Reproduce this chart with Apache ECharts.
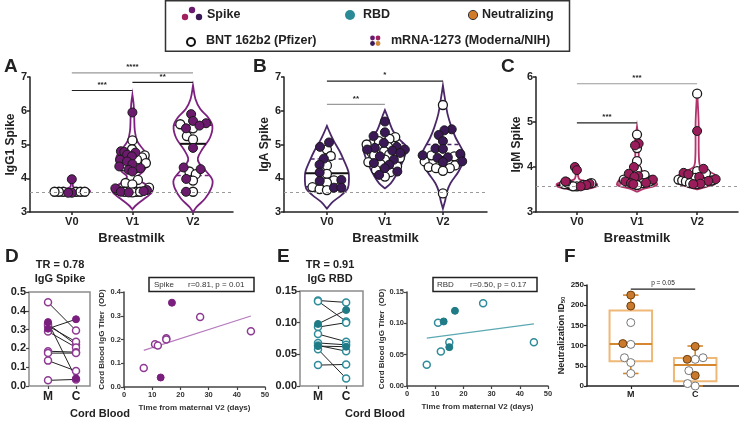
<!DOCTYPE html>
<html>
<head>
<meta charset="utf-8">
<script src="https://cdn.jsdelivr.net/npm/echarts@6.0.0/dist/echarts.min.js"></script>
<style>html,body{margin:0;padding:0;background:#fff;}#chart{width:739px;height:422px;}</style>
</head>
<body>
<div id="chart"></div>
<script>
// ================= DATA =================
const visits = ['V0', 'V1', 'V2'];
const pairCats = ['M', 'C'];

// A: IgG1 Spike (breastmilk)
const igg1Pfizer = [
  [3.6, 3.6, 3.6, 3.6, 3.6, 3.6],
  [5.12, 4.86, 4.68, 4.62, 4.55, 4.45, 4.35, 4.3, 3.95, 3.86, 3.82, 3.72, 3.65, 3.6, 3.6, 3.58, 3.6],
  [5.6, 5.48, 5.25, 5.15, 4.2, 4.12, 3.93, 3.6]
];
const igg1Moderna = [
  [3.97, 3.57, 3.57],
  [5.95, 4.8, 4.78, 4.76, 4.7, 4.65, 4.55, 4.5, 4.42, 4.35, 4.3, 4.25, 4.2, 3.7, 3.65, 3.6, 3.62, 3.58],
  [5.9, 5.7, 5.63, 5.56, 5.48, 4.9, 4.32, 4.27, 3.98, 3.6]
];
const igg1Violin = [
  [[3.52, 0], [3.55, 0.22], [3.6, 0.3], [3.66, 0.28], [3.7, 0.08], [3.75, 0.02], [3.95, 0.02], [4.0, 0]],
  [[3.08, 0], [3.2, 0.06], [3.4, 0.2], [3.6, 0.33], [3.75, 0.28], [3.9, 0.15], [4.05, 0.09], [4.2, 0.18], [4.45, 0.26], [4.65, 0.26], [4.85, 0.18], [5.1, 0.08], [5.4, 0.04], [5.8, 0.03], [6.2, 0.02], [6.47, 0]],
  [[3.0, 0], [3.15, 0.06], [3.4, 0.2], [3.7, 0.3], [3.95, 0.32], [4.2, 0.22], [4.45, 0.1], [4.6, 0.08], [4.85, 0.15], [5.2, 0.28], [5.55, 0.32], [5.8, 0.25], [6.05, 0.12], [6.35, 0.04], [6.75, 0]]
];
const igg1Quartiles = [[3.6, 3.6, 3.6], [3.65, 4.3, 4.68], [4.08, 5.02, 5.57]];
const igg1Sig = [[0, 2, 7.12, '****'], [1, 2, 6.84, '**'], [0, 1, 6.6, '***']];

// B: IgA Spike (breastmilk)
const igaPfizer = [
  [4.85, 4.66, 4.38, 4.13, 3.94, 3.87, 3.74, 3.68, 3.65],
  [5.22, 5.17, 5.1, 5.0, 4.93, 4.88, 4.8, 4.75, 4.7, 4.68, 4.6, 4.55, 4.48, 4.42, 4.35, 4.25, 4.18, 4.05],
  [6.17, 4.68, 4.65, 4.5, 4.38, 4.33, 4.3, 4.3, 4.22, 3.55]
];
const igaModerna = [
  [5.06, 4.93, 4.58, 4.4, 4.17, 3.95, 3.92, 3.72, 3.72],
  [5.68, 5.36, 5.25, 5.05, 4.93, 4.9, 4.85, 4.85, 4.82, 4.75, 4.65, 4.55, 4.45, 4.4, 4.3, 4.2, 4.1],
  [5.45, 5.42, 5.28, 5.1, 4.88, 4.87, 4.72, 4.68, 4.62, 4.6, 4.5, 4.48]
];
const igaViolin = [
  [[3.1, 0], [3.3, 0.1], [3.5, 0.25], [3.7, 0.36], [4.0, 0.38], [4.2, 0.37], [4.5, 0.3], [4.8, 0.22], [5.1, 0.12], [5.35, 0.05], [5.55, 0]],
  [[3.7, 0], [3.85, 0.1], [4.05, 0.18], [4.35, 0.27], [4.65, 0.34], [4.93, 0.37], [5.15, 0.25], [5.4, 0.14], [5.65, 0.08], [5.85, 0.04], [6.02, 0]],
  [[3.1, 0], [3.35, 0.04], [3.6, 0.07], [3.85, 0.13], [4.2, 0.27], [4.5, 0.35], [4.7, 0.37], [4.95, 0.3], [5.2, 0.22], [5.5, 0.15], [5.9, 0.08], [6.3, 0.04], [6.75, 0]]
];
const igaQuartiles = [[3.75, 4.15, 4.57], [4.5, 4.78, 5.03], [4.4, 4.63, 5.0]];
const igaSig = [[0, 2, 6.88, '*'], [0, 1, 6.19, '**']];

// C: IgM Spike (breastmilk)
const igmPfizer = [
  [3.59, 3.64, 3.57, 3.62, 3.62, 3.57, 3.67, 3.6],
  [4.72, 4.42, 4.13, 3.94, 3.82, 3.75, 3.72, 3.7, 3.67, 3.66, 3.64, 3.64, 3.6],
  [5.63, 3.91, 3.86, 3.76, 3.72, 3.7, 3.7, 3.68, 3.66, 3.64, 3.62]
];
const igmModerna = [
  [4.0, 3.93, 3.68, 3.63, 3.6, 3.57],
  [4.52, 4.48, 4.0, 3.85, 3.8, 3.78, 3.72, 3.68, 3.65, 3.64, 3.62],
  [4.8, 3.96, 3.87, 3.84, 3.78, 3.73, 3.69, 3.63, 3.62]
];
const igmViolin = [
  [[3.5, 0], [3.52, 0.2], [3.57, 0.33], [3.63, 0.33], [3.68, 0.2], [3.72, 0.05], [3.8, 0.02], [4.0, 0.02], [4.05, 0]],
  [[3.45, 0], [3.52, 0.12], [3.6, 0.33], [3.7, 0.3], [3.82, 0.17], [3.95, 0.06], [4.2, 0.03], [4.6, 0.03], [4.9, 0]],
  [[3.5, 0], [3.56, 0.15], [3.65, 0.33], [3.8, 0.32], [3.9, 0.2], [4.0, 0.06], [4.2, 0.03], [5.0, 0.025], [5.7, 0]]
];
const igmQuartiles = [[3.58, 3.6, 3.63], [3.62, 3.68, 3.8], [3.67, 3.77, 3.88]];
const igmSig = [[0, 2, 5.85, '***'], [0, 1, 4.98, '***']];

const lodIgg1 = 3.6, lodIga = 3.58, lodIgm = 3.58;

// D: IgG Spike, maternal (M) vs cord (C) pairs
const spikePairsPfizer = [[0.445, 0.295], [0.33, 0.22], [0.32, 0.235], [0.29, 0.205], [0.185, 0.18], [0.175, 0.175], [0.135, 0.08], [0.03, 0.035]];
const spikePairsModerna = [[0.305, 0.355], [0.34, 0.04]];
const spikeTimePfizer = [[7, 0.08], [11, 0.18], [12, 0.175], [15, 0.205], [15, 0.2], [27, 0.295], [45, 0.235]];
const spikeTimeModerna = [[13, 0.04], [17, 0.355]];

// E: IgG RBD
const rbdPairsPfizer = [[0.135, 0.132], [0.134, 0.102], [0.093, 0.1], [0.082, 0.07], [0.068, 0.065], [0.064, 0.055], [0.058, 0.012], [0.033, 0.034]];
const rbdPairsModerna = [[0.098, 0.12], [0.063, 0.062]];
const rbdTimePfizer = [[7, 0.034], [11, 0.101], [12, 0.055], [15, 0.07], [27, 0.132], [45, 0.07]];
const rbdTimeModerna = [[13, 0.103], [15, 0.062], [17, 0.12]];

// F: Neutralization ID50
const neutPfizer = [[157, 103, 70, 58, 31], [70, 66, 38, 0, 6]];
const neutModerna = [[225, 198, 105], [98, 66, 26]];
const neutBox = [[31, 61, 104, 187, 225], [0, 12, 52, 69, 99]]; // min, q1, median, q3, max
const neutSig = [[0, 1, 240, 'p = 0.05']];

// ================= LAYOUT / STYLE =================
const FONT = '"Liberation Sans", Arial, sans-serif';
const INK = '#222';
const L = {
  A:  {left: 30,  top: 77,  width: 203, height: 135, xmin: -0.69, xmax: 2.66, ymin: 3, ymax: 7, swarm: 7},
  B:  {left: 284, top: 77,  width: 203, height: 135, xmin: -0.74, xmax: 2.76, ymin: 3, ymax: 7, swarm: 7.4},
  C:  {left: 536, top: 77,  width: 202, height: 135, xmin: -0.68, xmax: 2.68, ymin: 3, ymax: 6, swarm: 7},
  D1: {left: 29,  top: 292, width: 61,  height: 94,  xmin: -0.68, xmax: 1.5, ymin: 0, ymax: 0.5},
  D2: {left: 124, top: 292, width: 141, height: 95,  xmin: 0, xmax: 50, ymin: 0, ymax: 0.4},
  E1: {left: 300, top: 291, width: 63,  height: 95,  xmin: -0.64, xmax: 1.6, ymin: 0, ymax: 0.15},
  E2: {left: 407, top: 292, width: 141, height: 94,  xmin: 0, xmax: 50, ymin: 0, ymax: 0.15},
  F:  {left: 587, top: 285, width: 152, height: 101, xmin: -0.68, xmax: 1.68, ymin: 0, ymax: 250, swarm: 8}
};
const keys = ['A', 'B', 'C', 'D1', 'D2', 'E1', 'E2', 'F'];

function widthAt(prof, v) {
  for (let k = 0; k < prof.length - 1; k++) {
    const [v0, w0] = prof[k], [v1, w1] = prof[k + 1];
    if (v >= v0 && v <= v1) return w0 + (w1 - w0) * (v - v0) / ((v1 - v0) || 1);
  }
  return 0;
}
// beeswarm layout, squeezed row-by-row to stay inside a violin outline
function swarm(values, pxX, pxY, minDist, prof) {
  const idx = values.map((v, i) => i).sort((a, b) => values[a] - values[b]);
  const placed = [], out = new Array(values.length);
  const d2 = minDist * minDist;
  idx.forEach(i => {
    const y = values[i] * pxY;
    const cands = [0];
    placed.forEach(p => {
      const dy = Math.abs(p.y - y);
      if (dy < minDist) { const dx = Math.sqrt(d2 - dy * dy); cands.push(p.x + dx, p.x - dx); }
    });
    cands.sort((a, b) => Math.abs(a) - Math.abs(b) || a - b);
    let c = 0;
    for (const cand of cands) {
      if (placed.every(p => (p.x - cand) ** 2 + (p.y - y) ** 2 >= d2 - 1e-6)) { c = cand; break; }
    }
    placed.push({x: c, y, i});
    out[i] = c;
  });
  if (prof) {
    const sq = values.map(v => {
      const y = v * pxY;
      let rowMax = 0;
      placed.forEach(p => { if (Math.abs(p.y - y) < minDist * 0.6) rowMax = Math.max(rowMax, Math.abs(p.x)); });
      const cap = Math.max(widthAt(prof, v) * pxX * 0.95, 2);
      return rowMax > cap ? cap / rowMax : 1;
    });
    return out.map((x, i) => x * sq[i] / pxX);
  }
  return out.map(x => x / pxX);
}
function scales(k) { const g = L[k]; return [g.width / (g.xmax - g.xmin), g.height / (g.ymax - g.ymin)]; }
function swarmPoints(k, white, filled, violin) {
  const [px, py] = scales(k);
  const w = [], f = [];
  white.forEach((wv, i) => {
    const fv = filled[i];
    const offs = swarm(wv.concat(fv), px, py, L[k].swarm, violin ? violin[i] : null);
    wv.forEach((v, j) => w.push([i + offs[j], v]));
    fv.forEach((v, j) => f.push([i + offs[wv.length + j], v]));
  });
  return [w, f];
}
function fitLine(pts) {
  const n = pts.length;
  const mx = pts.reduce((s, p) => s + p[0], 0) / n, my = pts.reduce((s, p) => s + p[1], 0) / n;
  let sxy = 0, sxx = 0;
  pts.forEach(p => { sxy += (p[0] - mx) * (p[1] - my); sxx += (p[0] - mx) ** 2; });
  const b = sxy / sxx, a = my - b * mx;
  const xs = pts.map(p => p[0]); const x0 = Math.min(...xs), x1 = Math.max(...xs);
  return [[x0, a + b * x0], [x1, a + b * x1]];
}

const grid = keys.map(k => {
  const g = {left: L[k].left, top: L[k].top, width: L[k].width, height: L[k].height};
  if (k === 'D1' || k === 'E1') { g.show = true; g.borderColor = '#8c8c8c'; g.borderWidth = 1.5; g.backgroundColor = 'transparent'; }
  return g;
});

const xAxis = [], yAxis = [];
['A', 'B', 'C'].forEach((k, gi) => {
  xAxis.push({gridIndex: gi, type: 'value', min: L[k].xmin, max: L[k].xmax,
    name: 'Breastmilk', nameLocation: 'middle', nameGap: 20,
    nameTextStyle: {fontSize: 13, fontWeight: 'bold', color: INK, fontFamily: FONT},
    axisLine: {onZero: false, lineStyle: {color: INK, width: 1.5}},
    axisTick: {customValues: [0, 1, 2], length: 3, lineStyle: {color: INK, width: 1.5}},
    axisLabel: {customValues: [0, 1, 2], formatter: v => visits[Math.round(v)], fontSize: 11, fontWeight: 'bold', color: INK, margin: 4, fontFamily: FONT},
    splitLine: {show: false}});
  yAxis.push({gridIndex: gi, type: 'value', min: L[k].ymin, max: L[k].ymax, interval: 1,
    name: ['IgG1 Spike', 'IgA Spike', 'IgM Spike'][gi], nameLocation: 'middle', nameGap: 10,
    nameTextStyle: {fontSize: 12, fontWeight: 'bold', color: INK, fontFamily: FONT},
    axisLine: {show: true, onZero: false, lineStyle: {color: INK, width: 1.5}},
    axisTick: {show: true, length: 3, lineStyle: {color: INK, width: 1.5}},
    axisLabel: {fontSize: 11, fontWeight: 'bold', color: INK, margin: 3, fontFamily: FONT},
    splitLine: {show: false}});
});
// D1, E1 paired frames
[['D1', 3, v => v.toFixed(1), 0.1], ['E1', 5, v => v.toFixed(2), 0.05]].forEach(([k, gi, fmt, iv]) => {
  xAxis[gi] = {gridIndex: gi, type: 'value', min: L[k].xmin, max: L[k].xmax,
    axisLine: {show: false, onZero: false}, axisTick: {customValues: [0, 1], length: 3, lineStyle: {color: '#444', width: 1.2}},
    axisLabel: {customValues: [0, 1], formatter: v => pairCats[Math.round(v)], fontSize: 12, fontWeight: 'bold', color: INK, margin: 5, fontFamily: FONT},
    splitLine: {show: false}};
  yAxis[gi] = {gridIndex: gi, type: 'value', min: L[k].ymin, max: L[k].ymax, interval: iv,
    axisLine: {show: false, onZero: false}, axisTick: {show: true, length: 3, lineStyle: {color: '#444', width: 1.2}},
    axisLabel: {formatter: fmt, fontSize: 11, fontWeight: 'bold', color: INK, margin: 3, fontFamily: FONT},
    splitLine: {show: false}};
});
// D2, E2 scatter vs time
[['D2', 4, v => v.toFixed(1), 0.1, 18], ['E2', 6, v => v.toFixed(2), 0.05, 21]].forEach(([k, gi, fmt, iv, ng]) => {
  xAxis[gi] = {gridIndex: gi, type: 'value', min: 0, max: 50, interval: 10,
    name: 'Time from maternal V2 (days)', nameLocation: 'middle', nameGap: 17,
    nameTextStyle: {fontSize: 8, fontWeight: 'bold', color: '#333', fontFamily: FONT},
    axisLine: {onZero: false, lineStyle: {color: '#444', width: 1.5}}, axisTick: {length: 3, lineStyle: {color: '#444', width: 1.2}},
    axisLabel: {fontSize: 7.5, fontWeight: 'bold', color: '#333', margin: 4, fontFamily: FONT}, splitLine: {show: false}};
  yAxis[gi] = {gridIndex: gi, type: 'value', min: L[k].ymin, max: L[k].ymax, interval: iv,
    name: 'Cord Blood IgG Titer  (OD)', nameLocation: 'middle', nameGap: ng,
    nameTextStyle: {fontSize: 8, fontWeight: 'bold', color: '#333', fontFamily: FONT},
    axisLine: {show: true, onZero: false, lineStyle: {color: '#444', width: 1.5}}, axisTick: {show: true, length: 3, lineStyle: {color: '#444', width: 1.2}},
    axisLabel: {formatter: fmt, fontSize: 7.5, fontWeight: 'bold', color: '#333', margin: 3, fontFamily: FONT}, splitLine: {show: false}};
});
// F
xAxis[7] = {gridIndex: 7, type: 'value', min: L.F.xmin, max: L.F.xmax,
  axisLine: {onZero: false, lineStyle: {color: INK, width: 1.5}}, axisTick: {customValues: [0, 1], length: 3, lineStyle: {color: INK, width: 1.2}},
  axisLabel: {customValues: [0, 1], formatter: v => pairCats[Math.round(v)], fontSize: 9, fontWeight: 'bold', color: INK, margin: 4, fontFamily: FONT},
  splitLine: {show: false}};
yAxis[7] = {gridIndex: 7, type: 'value', min: 0, max: 250, interval: 50,
  name: 'Neutralization ID{s|50}', nameLocation: 'middle', nameGap: 16,
  nameTextStyle: {fontSize: 9, fontWeight: 'bold', color: INK, fontFamily: FONT, rich: {s: {fontSize: 6, fontWeight: 'bold', verticalAlign: 'bottom', padding: [5, 0, 0, 0]}}},
  axisLine: {show: true, onZero: false, lineStyle: {color: INK, width: 1.5}}, axisTick: {show: true, length: 3, lineStyle: {color: INK, width: 1.2}},
  axisLabel: {fontSize: 8, fontWeight: 'bold', color: INK, margin: 3, fontFamily: FONT}, splitLine: {show: false}};

const series = [];
function violinPanel(k, gi, pf, md, violin, quart, sig, sigColors, lod, lineColor, dotColor) {
  series.push({type: 'custom', xAxisIndex: gi, yAxisIndex: gi, silent: true, z: 2,
    data: violin.map((p, i) => [i, p[0][0]]),
    renderItem: (params, api) => {
      const i = params.dataIndex, prof = violin[i], pts = [];
      prof.forEach(([v, w]) => pts.push(api.coord([i + w, v])));
      for (let j = prof.length - 1; j >= 0; j--) { const [v, w] = prof[j]; pts.push(api.coord([i - w, v])); }
      return {type: 'polygon', shape: {points: pts, smooth: 0.35}, style: {fill: 'none', stroke: lineColor, lineWidth: 1.8}};
    }});
  series.push({type: 'custom', xAxisIndex: gi, yAxisIndex: gi, silent: true, z: 3,
    data: quart.map((q, i) => [i, q[1]]),
    renderItem: (params, api) => {
      const i = params.dataIndex, prof = violin[i];
      return {type: 'group', children: quart[i].map((v, j) => {
        const w = widthAt(prof, v), a = api.coord([i - w, v]), b = api.coord([i + w, v]);
        return {type: 'line', shape: {x1: a[0], y1: a[1], x2: b[0], y2: b[1]},
          style: j === 1 ? {stroke: '#111', lineWidth: 2} : {stroke: lineColor, lineWidth: 1.5, lineDash: [4, 3]}};
      })};
    }});
  const [w, f] = swarmPoints(k, pf, md, violin);
  series.push({type: 'scatter', xAxisIndex: gi, yAxisIndex: gi, z: 4, symbol: 'circle', symbolSize: 9, data: w,
    itemStyle: {color: '#fff', borderColor: '#1a1a1a', borderWidth: 1.3, opacity: 1},
    markLine: {silent: true, symbol: 'none', label: {show: false}, lineStyle: {type: [3, 3], color: '#9a9a9a', width: 1.2}, data: [{yAxis: lod}]}});
  series.push({type: 'scatter', xAxisIndex: gi, yAxisIndex: gi, z: 5, symbol: 'circle', symbolSize: 9, data: f,
    itemStyle: {color: dotColor, borderColor: '#1a1a1a', borderWidth: 1, opacity: 1}});
  series.push({type: 'custom', xAxisIndex: gi, yAxisIndex: gi, silent: true, z: 6,
    data: sig.map(s => [s[0], s[2]]),
    renderItem: (params, api) => {
      const s = sig[params.dataIndex], a = api.coord([s[0], s[2]]), b = api.coord([s[1], s[2]]);
      return {type: 'group', children: [
        {type: 'line', shape: {x1: a[0], y1: a[1], x2: b[0], y2: b[1]}, style: {stroke: sigColors[params.dataIndex], lineWidth: 1.2}},
        {type: 'text', x: (a[0] + b[0]) / 2, y: a[1] - 2, style: {text: s[3], fill: INK, font: 'bold 8px ' + FONT, textAlign: 'center', textVerticalAlign: 'bottom'}}
      ]};
    }});
}
violinPanel('A', 0, igg1Pfizer, igg1Moderna, igg1Violin, igg1Quartiles, igg1Sig, ['#9a9a9a', '#222', '#222'], lodIgg1, '#7d2180', '#6b1a6e');
violinPanel('B', 1, igaPfizer, igaModerna, igaViolin, igaQuartiles, igaSig, ['#222', '#9a9a9a'], lodIga, '#4a2868', '#3b1856');
violinPanel('C', 2, igmPfizer, igmModerna, igmViolin, igmQuartiles, igmSig, ['#9a9a9a', '#222'], lodIgm, '#b4336b', '#9b1c5a');

function pairedPanel(gi, pf, md, color, fill) {
  const all = pf.concat(md);
  series.push({type: 'custom', xAxisIndex: gi, yAxisIndex: gi, silent: true, z: 2,
    data: all.map(p => [0, p[0]]),
    renderItem: (params, api) => {
      const p = all[params.dataIndex], a = api.coord([0, p[0]]), b = api.coord([1, p[1]]);
      return {type: 'line', shape: {x1: a[0], y1: a[1], x2: b[0], y2: b[1]}, style: {stroke: '#222', lineWidth: 1}};
    }});
  series.push({type: 'scatter', xAxisIndex: gi, yAxisIndex: gi, z: 3, symbolSize: 7,
    data: pf.flatMap(p => [[0, p[0]], [1, p[1]]]),
    itemStyle: {color: '#fff', borderColor: color, borderWidth: 1.5, opacity: 1}});
  series.push({type: 'scatter', xAxisIndex: gi, yAxisIndex: gi, z: 4, symbolSize: 7,
    data: md.flatMap(p => [[0, p[0]], [1, p[1]]]),
    itemStyle: {color: fill, borderColor: fill, borderWidth: 1, opacity: 1}});
}
function timePanel(gi, pf, md, color, fill, lineColor) {
  series.push({type: 'line', xAxisIndex: gi, yAxisIndex: gi, z: 2, symbol: 'none', silent: true,
    data: fitLine(pf.concat(md)), lineStyle: {color: lineColor, width: 1.2}});
  series.push({type: 'scatter', xAxisIndex: gi, yAxisIndex: gi, z: 3, symbolSize: 7, data: pf,
    itemStyle: {color: '#fff', borderColor: color, borderWidth: 1.5, opacity: 1}});
  series.push({type: 'scatter', xAxisIndex: gi, yAxisIndex: gi, z: 4, symbolSize: 7, data: md,
    itemStyle: {color: fill, borderColor: fill, borderWidth: 1, opacity: 1}});
}
pairedPanel(3, spikePairsPfizer, spikePairsModerna, '#8e3a93', '#7a1f7e');
timePanel(4, spikeTimePfizer, spikeTimeModerna, '#8e3a93', '#7a1f7e', '#b77bbd');
pairedPanel(5, rbdPairsPfizer, rbdPairsModerna, '#2e8b99', '#1f7b86');
timePanel(6, rbdTimePfizer, rbdTimeModerna, '#2e8b99', '#1f7b86', '#5ba9b3');

// F box plot
series.push({type: 'custom', xAxisIndex: 7, yAxisIndex: 7, silent: true, z: 2,
  data: neutBox.map((b, i) => [i, b[2]]),
  renderItem: (params, api) => {
    const i = params.dataIndex, [mn, q1, md, q3, mx] = neutBox[i];
    const bw = 0.33, cw = 0.12;
    const tl = api.coord([i - bw, q3]), br = api.coord([i + bw, q1]);
    const c = (x, y) => api.coord([x, y]);
    const ln = (p, q, st) => ({type: 'line', shape: {x1: p[0], y1: p[1], x2: q[0], y2: q[1]}, style: st});
    const wst = {stroke: '#d4872f', lineWidth: 1.6};
    return {type: 'group', children: [
      ln(c(i, q3), c(i, mx), wst), ln(c(i, q1), c(i, mn), wst),
      ln(c(i - cw, mx), c(i + cw, mx), wst), ln(c(i - cw, mn), c(i + cw, mn), wst),
      {type: 'rect', shape: {x: tl[0], y: tl[1], width: br[0] - tl[0], height: br[1] - tl[1]}, style: {fill: 'none', stroke: '#efb877', lineWidth: 2}},
      ln(c(i - bw, md), c(i + bw, md), {stroke: '#d4872f', lineWidth: 2})
    ]};
  }});
(function () {
  const [w, f] = swarmPoints('F', neutPfizer, neutModerna, null);
  series.push({type: 'scatter', xAxisIndex: 7, yAxisIndex: 7, z: 4, symbolSize: 8, data: w,
    itemStyle: {color: '#fff', borderColor: '#777', borderWidth: 1, opacity: 1}});
  series.push({type: 'scatter', xAxisIndex: 7, yAxisIndex: 7, z: 5, symbolSize: 8, data: f,
    itemStyle: {color: '#c97a2c', borderColor: '#6b3f12', borderWidth: 1, opacity: 1}});
})();
series.push({type: 'custom', xAxisIndex: 7, yAxisIndex: 7, silent: true, z: 6,
  data: neutSig.map(s => [s[0], s[2]]),
  renderItem: (params, api) => {
    const s = neutSig[params.dataIndex], a = api.coord([s[0], s[2]]), b = api.coord([s[1], s[2]]);
    return {type: 'group', children: [
      {type: 'line', shape: {x1: a[0], y1: a[1], x2: b[0], y2: b[1]}, style: {stroke: '#222', lineWidth: 1.2}},
      {type: 'text', x: (a[0] + b[0]) / 2, y: a[1] - 2, style: {text: s[3], fill: INK, font: '6.5px ' + FONT, textAlign: 'center', textVerticalAlign: 'bottom'}}
    ]};
  }});

// ================= static text / legend =================
function txt(x, y, text, size, opts) {
  opts = opts || {};
  return {type: 'text', x, y, silent: true, style: {text, fill: opts.color || INK, font: (opts.weight || 'bold') + ' ' + size + 'px ' + (opts.family || FONT),
    textAlign: opts.align || 'left', textVerticalAlign: opts.valign || 'middle'}};
}
function dot(cx, cy, r, fill, stroke, lw) {
  return {type: 'circle', silent: true, shape: {cx, cy, r}, style: {fill, stroke: stroke || null, lineWidth: lw || 0}};
}
const graphic = [
  {type: 'rect', silent: true, shape: {x: 165.5, y: 0.75, width: 404, height: 50.5}, style: {fill: 'none', stroke: '#333', lineWidth: 1.5}},
  dot(185, 17, 3.2, '#a0205f'), dot(192, 10, 3.2, '#6a1a6e'), dot(199, 17, 3.2, '#3b1856'),
  txt(207, 15, 'Spike', 12.5),
  dot(350, 15, 5, '#2a8a96'), txt(363, 15, 'RBD', 12.5),
  dot(473, 15, 4.6, '#d07a2a', '#333', 1), txt(482, 15, 'Neutralizing', 12.5),
  dot(191, 42, 4, '#fff', '#111', 2), txt(206, 41, 'BNT 162b2 (Pfizer)', 12.5),
  dot(372.5, 38, 2.4, '#6a1a6e'), dot(378, 38, 2.4, '#a0205f'), dot(372.5, 43.5, 2.4, '#3b1856'), dot(378, 43.5, 2.4, '#d08a3a'),
  txt(391, 41, 'mRNA-1273 (Moderna/NIH)', 12.5),
  txt(4, 67, 'A', 19), txt(253, 67, 'B', 19), txt(501, 67, 'C', 19),
  txt(5, 257, 'D', 19), txt(277, 257, 'E', 19), txt(564, 257, 'F', 19),
  txt(60, 265, 'TR = 0.78', 11, {align: 'center'}), txt(60, 279, 'IgG Spike', 11, {align: 'center'}),
  txt(330, 265, 'TR = 0.91', 11, {align: 'center'}), txt(330, 279, 'IgG RBD', 11, {align: 'center'}),
  txt(100, 414, 'Cord Blood', 11, {align: 'center'}), txt(375, 414, 'Cord Blood', 11, {align: 'center'}),
  {type: 'rect', silent: true, shape: {x: 149, y: 277.5, width: 105, height: 14}, style: {fill: '#fff', stroke: '#222', lineWidth: 1.5}},
  txt(154, 284.5, 'Spike', 8, {weight: 'normal', color: '#333'}), txt(188, 284.5, 'r=0.81, p = 0.01', 8, {weight: 'normal', color: '#333'}),
  {type: 'rect', silent: true, shape: {x: 433, y: 277.5, width: 104, height: 14}, style: {fill: '#fff', stroke: '#222', lineWidth: 1.5}},
  txt(437, 284.5, 'RBD', 8, {weight: 'normal', color: '#333'}), txt(470, 284.5, 'r=0.50, p = 0.17', 8, {weight: 'normal', color: '#333'})
];

const chart = echarts.init(document.getElementById('chart'), null, {renderer: 'canvas'});
chart.setOption({
  animation: false,
  backgroundColor: '#fff',
  textStyle: {fontFamily: FONT},
  grid, xAxis, yAxis, series, graphic
});
</script>
</body>
</html>
